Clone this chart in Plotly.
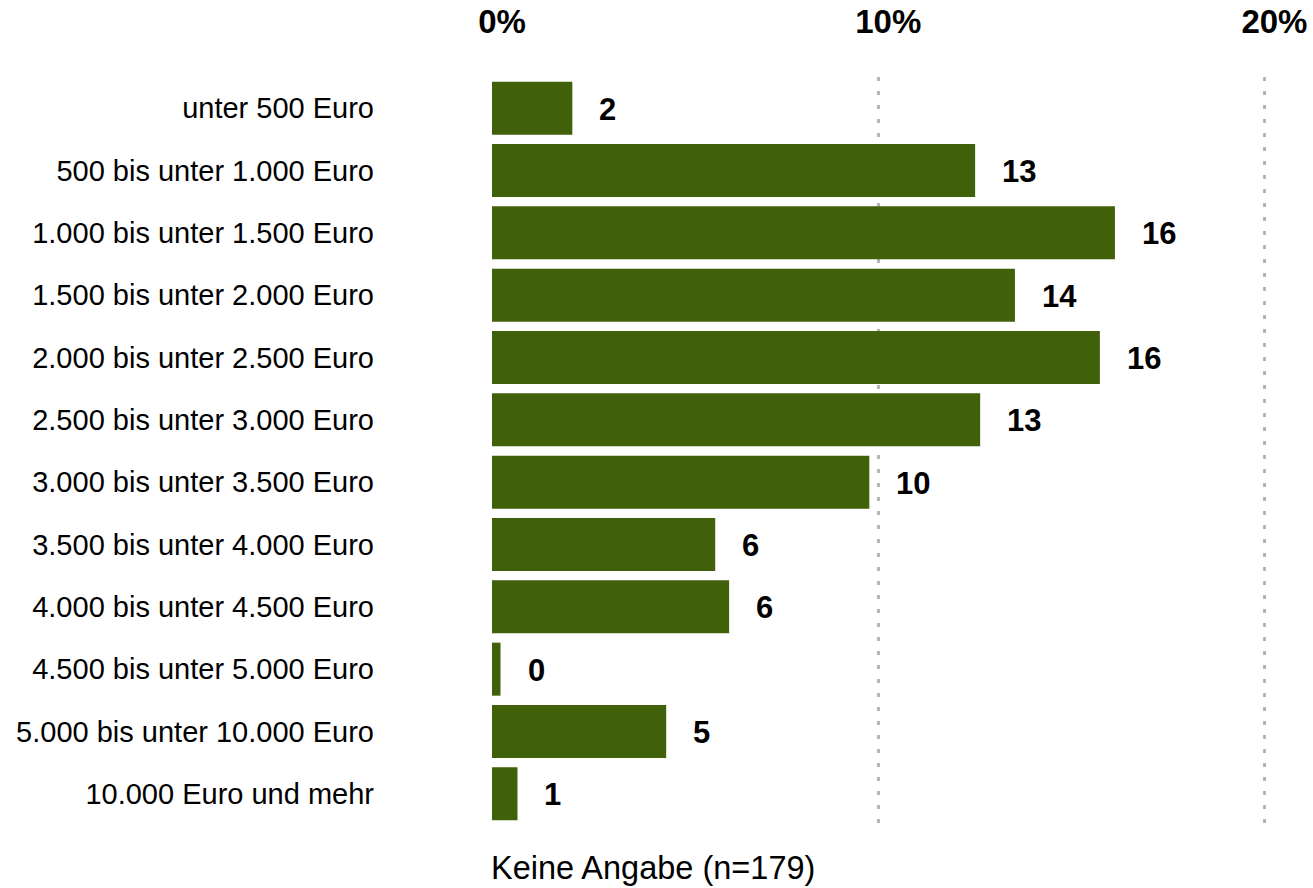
import plotly.graph_objects as go

categories = [
    "unter 500 Euro",
    "500 bis unter 1.000 Euro",
    "1.000 bis unter 1.500 Euro",
    "1.500 bis unter 2.000 Euro",
    "2.000 bis unter 2.500 Euro",
    "2.500 bis unter 3.000 Euro",
    "3.000 bis unter 3.500 Euro",
    "3.500 bis unter 4.000 Euro",
    "4.000 bis unter 4.500 Euro",
    "4.500 bis unter 5.000 Euro",
    "5.000 bis unter 10.000 Euro",
    "10.000 Euro und mehr",
]
values = [2.08, 12.51, 16.13, 13.54, 15.74, 12.64, 9.77, 5.78, 6.14, 0.22, 4.51, 0.66]
value_labels = ["2", "13", "16", "14", "16", "13", "10", "6", "6", "0", "5", "1"]
tick_vals = [0, 10, 20]
tick_text = ["0%", "10%", "20%"]
footer = "Keine Angabe (n=179)"

FONT = "Liberation Sans, Arial, sans-serif"
BAR = "#41600A"
GRID = "#b4b4b4"

fig = go.Figure(
    go.Bar(
        x=values,
        y=categories,
        orientation="h",
        marker=dict(color=BAR, line=dict(width=0)),
        hoverinfo="skip",
    )
)

annotations = []
for cat, v, lab in zip(categories, values, value_labels):
    annotations.append(
        dict(
            x=v, y=cat, xref="x", yref="y", text=lab, showarrow=False,
            xanchor="left", yanchor="middle", xshift=25, yshift=-1,
            font=dict(family=FONT, size=31, color="#000000", weight="bold"),
        )
    )
annotations.append(
    dict(
        x=0, y=-0.0575, xref="paper", yref="paper", text=footer, showarrow=False,
        xanchor="left", yanchor="middle", xshift=-3,
        font=dict(family=FONT, size=32.5, color="#000000"),
    )
)

fig.update_layout(
    width=1313,
    height=888,
    margin=dict(l=492, r=37, t=77, b=63, autoexpand=False),
    paper_bgcolor="white",
    plot_bgcolor="white",
    bargap=0.15,
    showlegend=False,
    annotations=annotations,
    xaxis=dict(
        side="top",
        range=[0, 20.3],
        tickvals=tick_vals,
        ticktext=tick_text,
        tickfont=dict(family=FONT, size=33, color="#000000", weight="bold"),
        ticks="",
        ticklabelstandoff=36,
        ticklabelshift=10,
        showgrid=True,
        gridcolor=GRID,
        gridwidth=3,
        griddash="4px,10px",
        zeroline=False,
        showline=False,
        automargin=False,
        fixedrange=True,
    ),
    yaxis=dict(
        autorange="reversed",
        tickfont=dict(family=FONT, size=29, color="#000000"),
        ticks="",
        ticklabelstandoff=117,
        showgrid=False,
        zeroline=False,
        showline=False,
        automargin=False,
        fixedrange=True,
    ),
)

fig.write_html(
    "out.html",
    config={"displayModeBar": False},
    post_script="document.body.style.margin='0';document.body.style.overflow='hidden';",
)
